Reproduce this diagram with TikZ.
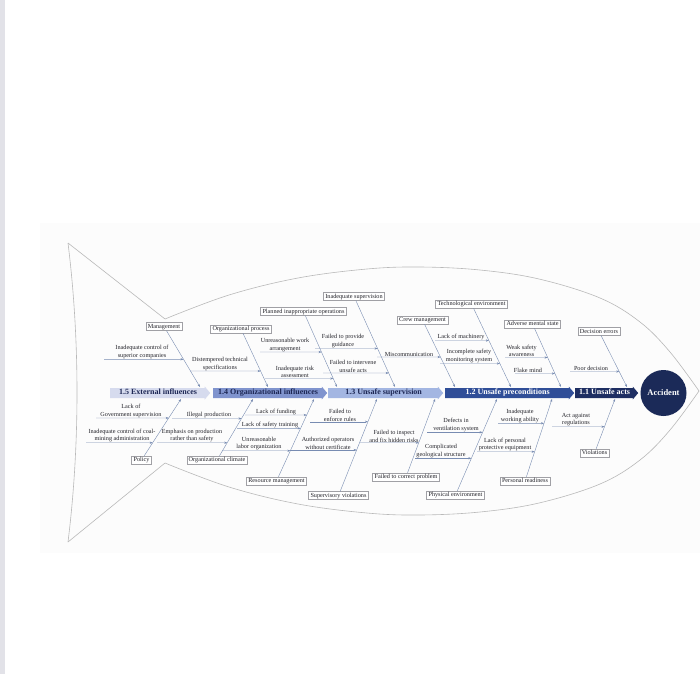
\documentclass[tikz,border=0pt]{standalone}
\usepackage{fontspec}
\setmainfont{Liberation Serif}
\usetikzlibrary{shapes.arrows,arrows.meta}
\definecolor{extc}{RGB}{214,219,238}
\definecolor{orgc}{RGB}{128,148,206}
\definecolor{supc}{RGB}{163,182,226}
\definecolor{prec}{RGB}{48,78,152}
\definecolor{actc}{RGB}{30,46,98}
\definecolor{accc}{RGB}{27,42,88}
\definecolor{navytxt}{RGB}{30,40,85}
\definecolor{linec}{RGB}{120,140,178}
\definecolor{boxc}{RGB}{160,160,165}
\definecolor{fishc}{RGB}{185,185,185}
\definecolor{txtc}{RGB}{35,35,42}
\definecolor{stripc}{RGB}{226,226,232}
\definecolor{canvasc}{RGB}{252,252,252}
\begin{document}
\begin{tikzpicture}[x=1pt, y=-1pt, >={Stealth[length=3pt,width=2.2pt]}]
        \tikzstyle{cause}=[draw=boxc, fill=white, line width=0.4pt, inner xsep=2pt, inner ysep=1.3pt, text height=4.3pt, text depth=1.2pt, font=\fontsize{6.2}{7}\selectfont, text=txtc]
        \tikzstyle{lbl}=[anchor=south, align=center, inner sep=0.4pt, font=\fontsize{6.2}{7.6}\selectfont, text=txtc]
        \tikzstyle{bone}=[->, draw=linec, line width=0.4pt]
        \tikzstyle{twig}=[->, draw=linec, line width=0.4pt]
        \tikzstyle{spine}=[single arrow, anchor=tail, single arrow head extend=1.5pt, single arrow tip angle=100, inner xsep=1pt, inner ysep=1.4pt, text height=5.3pt, text depth=1.5pt, font=\fontsize{8}{8.5}\selectfont\bfseries]
        \tikzstyle{fish}=[draw=fishc, line width=0.6pt]

        \useasboundingbox (0,0) rectangle (700,674);
        \fill[stripc] (0,0) rectangle (5,674);
        \fill[canvasc] (40,223) rectangle (700,553);

        \draw[fish] (68,243) .. controls (80,340) and (80,445) .. (68,542);
        \draw[fish] (68,243) -- (165,319);
        \draw[fish] (68,542) -- (165,463);
        \draw[fish] plot[smooth, tension=0.6] coordinates {(165,319) (229,295) (298,278) (367,269) (420,267) (480,270) (539,279) (600,298) (640,322) (670,352) (699,391)};
        \draw[fish] plot[smooth, tension=0.6] coordinates {(165,463) (229,487) (298,504) (367,513) (420,515) (480,512) (539,503) (600,484) (640,460) (670,430) (699,391)};

        \node[spine, fill=extc, text=navytxt, minimum height=100pt] (L5) at (110,393) {1.5 External influences};
        \node[spine, fill=orgc, text=navytxt, minimum height=114pt] (L4) at (213,393) {1.4 Organizational influences};
        \node[spine, fill=supc, text=navytxt, minimum height=115pt] (L3) at (328,393) {1.3 Unsafe supervision};
        \node[spine, fill=prec, text=white, minimum height=129pt] (L2) at (445,393) {1.2 Unsafe preconditions};
        \node[spine, fill=actc, text=white, minimum height=63pt] (L1) at (575,393) {1.1 Unsafe acts};
        \node[circle, fill=accc, text=white, minimum size=46pt, inner sep=0pt, font=\fontsize{8.5}{9}\selectfont\bfseries] (acc) at (663.5,393) {Accident};

        \node[cause] (mgmt) at (164,326.5) {Management};
        \node[cause] (orgp) at (241,329) {Organizational process};
        \node[cause] (plan) at (303.5,311.5) {Planned inappropriate operations};
        \node[cause] (insup) at (354,296.5) {Inadequate supervision};
        \node[cause] (crew) at (422.5,320) {Crew management};
        \node[cause] (tech) at (471.5,304) {Technological environment};
        \node[cause] (adv) at (532.5,324) {Adverse mental state};
        \node[cause] (dec) at (599,331.5) {Decision errors};
        \node[cause] (policy) at (141.5,460) {Policy};
        \node[cause] (orgcl) at (217,460) {Organizational climate};
        \node[cause] (res) at (276.5,481) {Resource management};
        \node[cause] (supv) at (338.5,495.5) {Supervisory violations};
        \node[cause] (fcp) at (406,477) {Failed to correct problem};
        \node[cause] (phys) at (455.5,495) {Physical environment};
        \node[cause] (pers) at (525,481) {Personal readiness};
        \node[cause] (viol) at (594.5,453) {Violations};

        \coordinate (mgmtE) at (200,387);
        \coordinate (orgpE) at (268,387);
        \coordinate (planE) at (337,387);
        \coordinate (insupE) at (395,387);
        \coordinate (crewE) at (455,387);
        \coordinate (techE) at (511,387);
        \coordinate (advE) at (561,387);
        \coordinate (decE) at (627,387);
        \coordinate (policyE) at (181,399);
        \coordinate (orgclE) at (253,399);
        \coordinate (resE) at (314,399);
        \coordinate (supvE) at (377,399);
        \coordinate (fcpE) at (435,399);
        \coordinate (physE) at (497,399);
        \coordinate (persE) at (552,399);
        \coordinate (violE) at (615,399);

        \draw[bone] (mgmt) -- (mgmtE);
        \draw[bone] (orgp) -- (orgpE);
        \draw[bone] (plan) -- (planE);
        \draw[bone] (insup) -- (insupE);
        \draw[bone] (crew) -- (crewE);
        \draw[bone] (tech) -- (techE);
        \draw[bone] (adv) -- (advE);
        \draw[bone] (dec) -- (decE);
        \draw[bone] (policy) -- (policyE);
        \draw[bone] (orgcl) -- (orgclE);
        \draw[bone] (res) -- (resE);
        \draw[bone] (supv) -- (supvE);
        \draw[bone] (fcp) -- (fcpE);
        \draw[bone] (phys) -- (physE);
        \draw[bone] (pers) -- (persE);
        \draw[bone] (viol) -- (violE);

        \node[lbl] (isc) at (142,359.3) {Inadequate control of\\superior companies};
        \node[lbl] (dts) at (220,371) {Distempered technical\\specifications};
        \node[lbl] (uwa) at (285,352) {Unreasonable work\\arrangement};
        \node[lbl] (ira) at (295,378.5) {Inadequate risk\\assessment};
        \node[lbl] (fpg) at (343,348.5) {Failed to provide\\guidance};
        \node[lbl] (fiu) at (353,373) {Failed to intervene\\unsafe acts};
        \node[lbl] (mis) at (409,357) {Miscommunication};
        \node[lbl] (lom) at (461,340.5) {Lack of machinery};
        \node[lbl] (ism) at (469,363.5) {Incomplete safety\\monitoring system};
        \node[lbl] (wsa) at (521.5,357.5) {Weak safety\\awareness};
        \node[lbl] (flm) at (528,373.5) {Flake mind};
        \node[lbl] (pod) at (591,371.5) {Poor decision};
        \node[lbl] (lgs) at (131,418) {Lack of\\Government supervision};
        \node[lbl] (icc) at (122,442.7) {Inadequate control of coal-\\mining administration};
        \node[lbl] (ilp) at (209,418.5) {Illegal production};
        \node[lbl] (epr) at (192,442.7) {Emphasis on production\\rather than safety};
        \node[lbl] (lof) at (276,415) {Lack of funding};
        \node[lbl] (lst) at (270,428.3) {Lack of safety training};
        \node[lbl] (ulo) at (259,450.7) {Unreasonable\\labor organization};
        \node[lbl] (fer) at (340,421.7) {Failed to\\enforce rules};
        \node[lbl] (aow) at (328,450) {Authorized operators\\without certificate};
        \node[lbl] (fih) at (394,442.7) {Failed to inspect\\and fix hidden risks};
        \node[lbl] (dvs) at (456,432.3) {Defects in\\ventilation system};
        \node[lbl] (cgs) at (441,458.3) {Complicated\\geological structure};
        \node[lbl] (iwa) at (520,423.3) {Inadequate\\working ability};
        \node[lbl] (lpp) at (505,451.7) {Lack of personal\\protective equipment};
        \node[lbl] (aar) at (576,426.7) {Act against\\regulations};

        \coordinate (iscS) at (104,359.3);
        \coordinate (dtsS) at (190,371);
        \coordinate (uwaS) at (260,352);
        \coordinate (iraS) at (265,378.5);
        \coordinate (fpgS) at (315,348.5);
        \coordinate (fiuS) at (323,373);
        \coordinate (misS) at (377,357);
        \coordinate (lomS) at (435,340.5);
        \coordinate (ismS) at (440,363.5);
        \coordinate (wsaS) at (505,357.5);
        \coordinate (flmS) at (515,373.5);
        \coordinate (podS) at (570,371.5);
        \coordinate (lgsS) at (96,418);
        \coordinate (iccS) at (86,442.7);
        \coordinate (ilpS) at (172,418.5);
        \coordinate (eprS) at (157,442.7);
        \coordinate (lofS) at (245,415);
        \coordinate (lstS) at (237,428.3);
        \coordinate (uloS) at (222,450.7);
        \coordinate (ferS) at (310,421.7);
        \coordinate (aowS) at (290,450);
        \coordinate (fihS) at (360,442.7);
        \coordinate (dvsS) at (427,432.3);
        \coordinate (cgsS) at (415,458.3);
        \coordinate (iwaS) at (498,423.3);
        \coordinate (lppS) at (477,451.7);
        \coordinate (aarS) at (552,426.7);

        \draw[twig] (iscS) -- (intersection of iscS--isc.south and mgmt.center--mgmtE);
        \draw[twig] (dtsS) -- (intersection of dtsS--dts.south and orgp.center--orgpE);
        \draw[twig] (uwaS) -- (intersection of uwaS--uwa.south and plan.center--planE);
        \draw[twig] (iraS) -- (intersection of iraS--ira.south and plan.center--planE);
        \draw[twig] (fpgS) -- (intersection of fpgS--fpg.south and insup.center--insupE);
        \draw[twig] (fiuS) -- (intersection of fiuS--fiu.south and insup.center--insupE);
        \draw[twig] (misS) -- (intersection of misS--mis.south and crew.center--crewE);
        \draw[twig] (lomS) -- (intersection of lomS--lom.south and tech.center--techE);
        \draw[twig] (ismS) -- (intersection of ismS--ism.south and tech.center--techE);
        \draw[twig] (wsaS) -- (intersection of wsaS--wsa.south and adv.center--advE);
        \draw[twig] (flmS) -- (intersection of flmS--flm.south and adv.center--advE);
        \draw[twig] (podS) -- (intersection of podS--pod.south and dec.center--decE);
        \draw[twig] (lgsS) -- (intersection of lgsS--lgs.south and policy.center--policyE);
        \draw[twig] (iccS) -- (intersection of iccS--icc.south and policy.center--policyE);
        \draw[twig] (ilpS) -- (intersection of ilpS--ilp.south and orgcl.center--orgclE);
        \draw[twig] (eprS) -- (intersection of eprS--epr.south and orgcl.center--orgclE);
        \draw[twig] (lofS) -- (intersection of lofS--lof.south and res.center--resE);
        \draw[twig] (lstS) -- (intersection of lstS--lst.south and res.center--resE);
        \draw[twig] (uloS) -- (intersection of uloS--ulo.south and res.center--resE);
        \draw[twig] (ferS) -- (intersection of ferS--fer.south and supv.center--supvE);
        \draw[twig] (aowS) -- (intersection of aowS--aow.south and supv.center--supvE);
        \draw[twig] (fihS) -- (intersection of fihS--fih.south and fcp.center--fcpE);
        \draw[twig] (dvsS) -- (intersection of dvsS--dvs.south and phys.center--physE);
        \draw[twig] (cgsS) -- (intersection of cgsS--cgs.south and phys.center--physE);
        \draw[twig] (iwaS) -- (intersection of iwaS--iwa.south and pers.center--persE);
        \draw[twig] (lppS) -- (intersection of lppS--lpp.south and pers.center--persE);
        \draw[twig] (aarS) -- (intersection of aarS--aar.south and viol.center--violE);

        \end{tikzpicture}
\end{document}
